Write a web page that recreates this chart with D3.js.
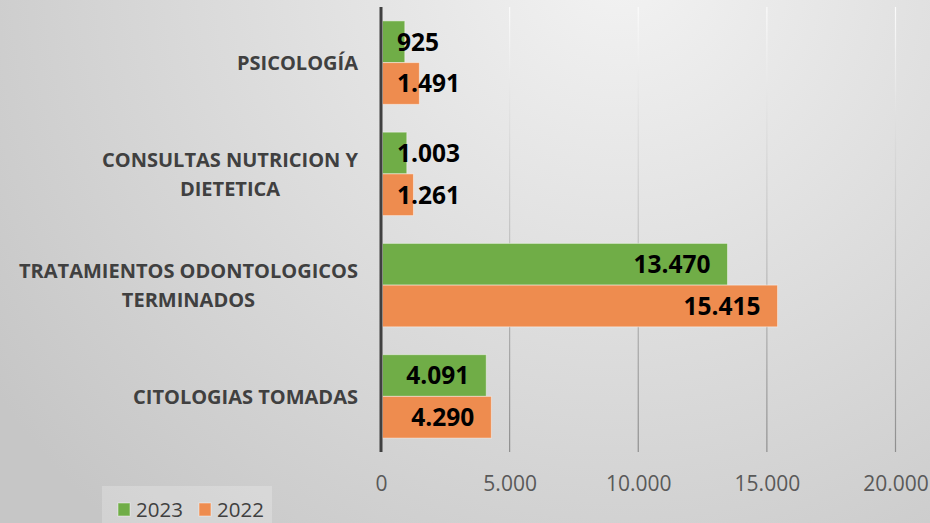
<!DOCTYPE html>
<html>
<head>
<meta charset="utf-8">
<script src="https://cdn.jsdelivr.net/npm/d3@7"></script>
<style>
  html, body { margin: 0; padding: 0; }
  body { width: 930px; height: 523px; overflow: hidden; }
  svg { display: block; font-family: "Open Sans", sans-serif; }
</style>
</head>
<body>
<div id="chart"></div>
<script>
// categories, top to bottom
const categories = [
  ['PSICOLOGÍA'],
  ['CONSULTAS NUTRICION Y', 'DIETETICA'],
  ['TRATAMIENTOS ODONTOLOGICOS', 'TERMINADOS'],
  ['CITOLOGIAS TOMADAS'],
];
const seriesNames = ['2023', '2022'];
const values2023 = [925, 1003, 13470, 4091];
const values2022 = [1491, 1261, 15415, 4290];
const xTicks = [0, 5000, 10000, 15000, 20000];

const colors = { '2023': '#70ad47', '2022': '#ee8c4f' };

const W = 930, H = 523;
const plot = { left: 381, right: 895.5, top: 7, bottom: 452 };

const fmt = v => d3.format(',')(v).replace(/,/g, '.');

const svg = d3.select('#chart').append('svg').attr('width', W).attr('height', H);
const defs = svg.append('defs');

// background: soft radial grey
const bg = defs.append('radialGradient').attr('id', 'bg')
  .attr('gradientUnits', 'userSpaceOnUse')
  .attr('cx', 620).attr('cy', -40).attr('r', 760);
bg.append('stop').attr('offset', '0%').attr('stop-color', '#f3f3f3');
bg.append('stop').attr('offset', '100%').attr('stop-color', '#c6c6c6');
svg.append('rect').attr('width', W).attr('height', H).attr('fill', 'url(#bg)');

const gridGrad = defs.append('linearGradient').attr('id', 'grid')
  .attr('gradientUnits', 'userSpaceOnUse')
  .attr('x1', 0).attr('y1', plot.top).attr('x2', 0).attr('y2', plot.bottom);
gridGrad.append('stop').attr('offset', '0%').attr('stop-color', '#fbfbfb');
gridGrad.append('stop').attr('offset', '100%').attr('stop-color', '#8e8e8e');

const x = d3.scaleLinear().domain([0, 20000]).range([plot.left, plot.right]);
const y = d3.scaleBand().domain(d3.range(categories.length))
  .range([plot.top, plot.bottom]).paddingInner(0.25).paddingOuter(0.125);
const ySub = d3.scaleBand().domain(seriesNames).range([0, y.bandwidth()]);

// gridlines
svg.append('g').selectAll('line').data(xTicks.slice(1)).enter().append('line')
  .attr('x1', d => x(d)).attr('x2', d => x(d))
  .attr('y1', plot.top).attr('y2', plot.bottom)
  .attr('stroke', 'url(#grid)').attr('stroke-width', 1.2);

// x axis labels
const xAxis = svg.append('g').attr('transform', `translate(0,${plot.bottom})`)
  .call(d3.axisBottom(x).tickValues(xTicks).tickFormat(fmt).tickSize(0).tickPadding(24));
xAxis.select('.domain').remove();
xAxis.selectAll('text').attr('fill', '#595959').style('font-size', '21px')
  .style('font-family', '"Open Sans", sans-serif');

// bars
const rows = categories.map((c, i) => ({ i, v: { '2023': values2023[i], '2022': values2022[i] } }));
const groups = svg.append('g').selectAll('g').data(rows).enter().append('g')
  .attr('transform', d => `translate(0,${y(d.i)})`);

groups.selectAll('rect').data(d => seriesNames.map(s => ({ s, v: d.v[s] }))).enter().append('rect')
  .attr('x', x(0) + 1.5)
  .attr('y', d => ySub(d.s))
  .attr('width', d => x(d.v) - x(0) - 1.5)
  .attr('height', ySub.bandwidth())
  .attr('fill', d => colors[d.s])
  .attr('stroke', 'rgba(255,255,255,0.45)').attr('stroke-width', 1);

// data labels
groups.selectAll('text.val').data(d => seriesNames.map(s => ({ s, v: d.v[s] }))).enter().append('text')
  .attr('class', 'val')
  .attr('y', d => ySub(d.s) + ySub.bandwidth() / 2)
  .attr('dy', '0.36em')
  .attr('text-anchor', 'end')
  .style('font-size', '24.5px').style('font-weight', 700).attr('fill', '#000')
  .text(d => fmt(d.v))
  .attr('x', function (d) {
    const w = this.getComputedTextLength();
    return Math.max(x(d.v) - 17, x(0) + 16 + w);
  });

// vertical axis line
svg.append('line')
  .attr('x1', x(0)).attr('x2', x(0))
  .attr('y1', plot.top).attr('y2', plot.bottom)
  .attr('stroke', '#404040').attr('stroke-width', 3);

// category labels (wrapped lines centred, block right-aligned)
const labelRight = 358;
categories.forEach((lines, i) => {
  const g = svg.append('g');
  const cy = y(i) + y.bandwidth() / 2;
  const lh = 29;
  const texts = lines.map((t, k) => g.append('text')
    .attr('y', cy + (k - (lines.length - 1) / 2) * lh)
    .attr('dy', '0.36em')
    .attr('text-anchor', 'middle')
    .style('font-size', '20px').style('font-weight', 700).attr('fill', '#404040')
    .text(t));
  const maxW = d3.max(texts, t => t.node().getComputedTextLength());
  texts.forEach(t => t.attr('x', labelRight - maxW / 2));
});

// legend
const lg = svg.append('g');
lg.append('rect').attr('x', 102).attr('y', 486).attr('width', 170).attr('height', 40)
  .attr('fill', '#ffffff').attr('opacity', 0.22);
const item = lg.selectAll('g').data(seriesNames).enter().append('g')
  .attr('transform', (d, i) => `translate(${118 + i * 81},0)`);
item.append('rect').attr('x', 0).attr('y', 503).attr('width', 12).attr('height', 13)
  .attr('fill', d => colors[d]).attr('stroke', 'rgba(255,255,255,0.45)');
item.append('text').attr('x', 18).attr('y', 510).attr('dy', '0.36em')
  .style('font-size', '20.5px').attr('fill', '#404040').text(d => d);
</script>
</body>
</html>
